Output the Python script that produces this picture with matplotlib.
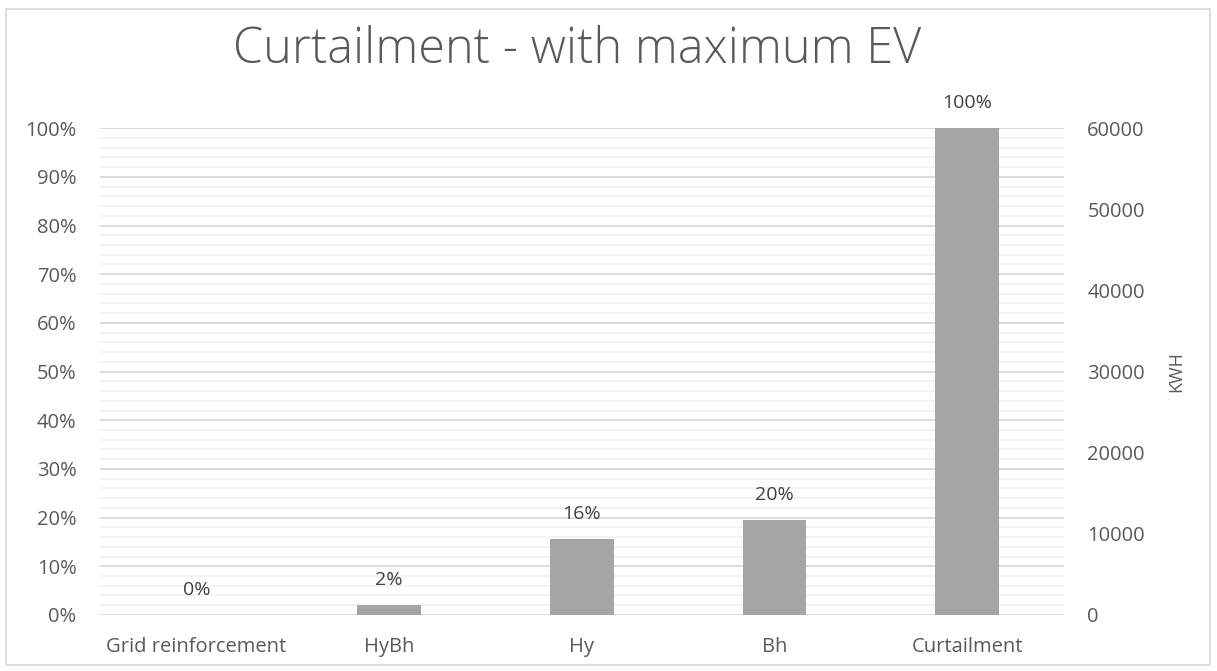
import matplotlib.pyplot as plt
from matplotlib.patches import Rectangle
from matplotlib.ticker import MultipleLocator, PercentFormatter

categories = ['Grid reinforcement', 'HyBh', 'Hy', 'Bh', 'Curtailment']
share = [0.0, 0.021, 0.157, 0.196, 1.0]
kwh_ticks = [0, 10000, 20000, 30000, 40000, 50000, 60000]

plt.rcParams['font.family'] = ['Open Sans', 'DejaVu Sans']
txt = '#595959'

fig = plt.figure(figsize=(12.17, 6.71), dpi=100)
ax = fig.add_axes([0.0822, 0.0835, 0.7918, 0.7255])

x = range(len(categories))
ax.bar(x, share, width=0.33, color='#a5a5a5', zorder=3)
for xi, v in zip(x, share):
    ax.annotate(f'{v:.0%}', (xi, v), xytext=(0, 18), textcoords='offset points',
                ha='center', va='center', fontsize=14, color='#404040')

ax.set_xlim(-0.5, len(categories) - 0.5)
ax.set_ylim(0, 1)
ax.yaxis.set_major_locator(MultipleLocator(0.1))
ax.yaxis.set_minor_locator(MultipleLocator(0.02))
ax.yaxis.set_major_formatter(PercentFormatter(1.0, decimals=0))
ax.grid(axis='y', which='minor', color='#f2f2f2', linewidth=1.3, zorder=0)
ax.grid(axis='y', which='major', color='#d9d9d9', linewidth=1.3, zorder=1)
ax.set_xticks(list(x))
ax.set_xticklabels(categories)
ax.tick_params(axis='both', which='both', length=0, labelsize=14.5, colors=txt)
ax.tick_params(axis='x', pad=16)
ax.tick_params(axis='y', pad=17)
for s in ax.spines.values():
    s.set_visible(False)

# secondary axis in KWH
ax2 = ax.twinx()
ax2.set_ylim(0, 60000)
ax2.set_yticks(kwh_ticks)
ax2.tick_params(axis='y', length=0, labelsize=14.5, colors=txt, pad=17)
ax2.set_ylabel('KWH', fontsize=13, color=txt, labelpad=16)
for s in ax2.spines.values():
    s.set_visible(False)

fig.text(0.474, 0.925, 'Curtailment - with maximum EV', ha='center', va='center',
         fontsize=35, fontweight='light', color=txt)

fig.patches.append(Rectangle((6 / 1217, 6 / 671), 1204 / 1217, 656 / 671,
                             transform=fig.transFigure, fill=False,
                             edgecolor='#d9d9d9', linewidth=1.2))

fig.savefig('out.png', dpi=100)
